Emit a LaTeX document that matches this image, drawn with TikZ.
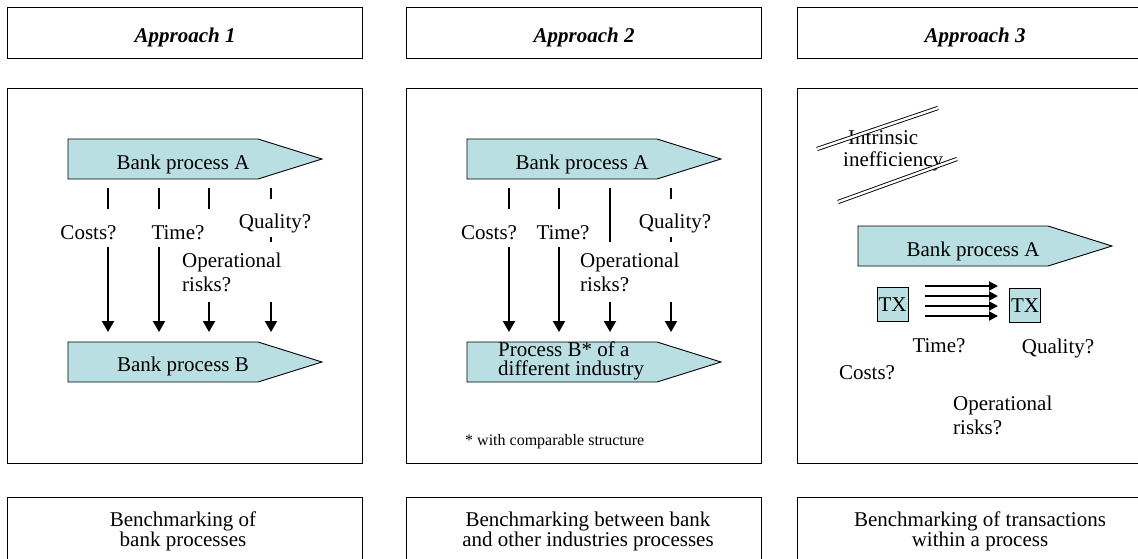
\documentclass[tikz,border=0pt]{standalone}
\usepackage{fontspec}
\setmainfont{Liberation Serif}
\usetikzlibrary{arrows.meta}
\definecolor{procblue}{HTML}{B9DFE2}
\newcommand\procshape[2]{\draw[proc] (#1,#2) -- ++(190,0) -- ++(64,20) -- ++(-64,20) -- ++(-190,0) -- cycle;}
\begin{document}
\begin{tikzpicture}[x=1pt,y=-1pt,
  txt/.style={font=\fontsize{21}{24}\selectfont, inner sep=0pt},
  frame/.style={draw=black, line width=1.3pt, inner sep=0pt, anchor=north west, minimum width=355pt},
  headbox/.style={frame, minimum height=51pt, font=\fontsize{21}{24}\selectfont\bfseries\itshape, text height=18pt, text depth=0pt},
  proc/.style={draw=black, line width=0.9pt, fill=procblue},
  flow/.style={line width=2.2pt, -{Triangle[width=12pt,length=11pt]}},
  smallflow/.style={line width=2pt, -{Triangle[width=9pt,length=9pt]}},
  qlab/.style={txt, fill=white, inner xsep=7pt, inner ysep=0pt, minimum height=38pt, text height=22pt, text depth=0pt},
  oplab/.style={txt, fill=white, inner xsep=6pt, inner ysep=0pt, minimum height=60pt, align=left, anchor=west},
  txbox/.style={txt, draw=black, line width=0.9pt, fill=procblue, minimum width=31pt, minimum height=34pt},
  strike/.style={draw=black, double=white, double distance=2.4pt, line width=0.9pt}
]
\useasboundingbox (0,0) rectangle (1138,558);
\clip (0,0) rectangle (1138,558);
\fill[white] (0,0) rectangle (1138,558);

% headers
\node[headbox] (h1) at (7,7) {Approach 1};
\node[headbox] (h2) at (406,7) {Approach 2};
\node[headbox] (h3) at (797,7) {Approach 3};

% panels
\node[frame, minimum height=375pt] (pan1) at (7,88) {};
\node[frame, minimum height=375pt] (pan2) at (406,88) {};
\node[frame, minimum height=375pt] (pan3) at (797,88) {};

% bottom boxes
\node[frame, minimum height=100pt] (bot1) at (7,497) {};
\node[frame, minimum height=100pt] (bot2) at (406,497) {};
\node[frame, minimum height=100pt] (bot3) at (797,497) {};
\node[txt, align=center, anchor=north, font=\fontsize{21}{20.5}\selectfont] (bt1) at (183,511.5) {Benchmarking of\\bank processes};
\node[txt, align=center, anchor=north, font=\fontsize{21}{20.5}\selectfont] (bt2) at (588,511.5) {Benchmarking between bank\\and other industries processes};
\node[txt, align=center, anchor=north, font=\fontsize{21}{20.5}\selectfont] (bt3) at (980,511.5) {Benchmarking of transactions\\within a process};

% ---------- panel 1 ----------
\procshape{68}{139}
\procshape{68}{342}
\node[txt, anchor=base] (p1a) at (183,169) {Bank process A};
\node[txt, anchor=base] (p1b) at (183,371) {Bank process B};

% ---------- panel 2 ----------
\procshape{467}{139}
\procshape{467}{342}
\node[txt, anchor=base] (p2a) at (582,169) {Bank process A};
\node[txt, anchor=north west, align=left, font=\fontsize{21}{19}\selectfont] (p2b) at (498,341.5) {Process B* of a\\different industry};
\node[txt, anchor=base west, font=\fontsize{16}{19}\selectfont] (fn) at (465,445) {* with comparable structure};

% vertical arrows (panels 1 and 2)
\foreach \x/\n in {108/a,159/b,209/c,271/d,509/e,559/f,610/g,671/h} {
  \coordinate (t\n) at (\x,188);
  \coordinate (b\n) at (\x,332);
  \draw[flow] (t\n) -- (b\n);
}

% labels over the arrows
\node[qlab] (c1) at (88.5,228) {Costs?};
\node[qlab] (ti1) at (178,228) {Time?};
\node[qlab] (q1) at (275,217.5) {Quality?};
\node[oplab] (o1) at (176,272) {Operational\\risks?};
\node[qlab] (c2) at (489,228) {Costs?};
\node[qlab] (ti2) at (563,228) {Time?};
\node[qlab] (q2) at (675,217.5) {Quality?};
\node[oplab] (o2) at (574,272) {Operational\\risks?};

% ---------- panel 3 ----------
\node[txt, anchor=north west, align=left, font=\fontsize{21}{22}\selectfont] (ineff) at (843,130.5) {\hspace*{5pt}Intrinsic\\inefficiency};
\draw[strike] (817,149) -- (938,108);
\draw[strike] (838,202) -- (957,159);

\procshape{858}{226}
\node[txt, anchor=base] (p3a) at (973,256) {Bank process A};

\node[txbox] (tx1) at (892.5,304.5) {TX};
\node[txbox] (tx2) at (1025,305.5) {TX};
\foreach \y/\n in {286/p,296/q,306/r,316/s} {
  \coordinate (l\n) at (925,\y);
  \coordinate (r\n) at (998,\y);
  \draw[smallflow] (l\n) -- (r\n);
}

\node[txt, anchor=base] (ti3) at (939,352) {Time?};
\node[txt, anchor=base] (q3) at (1058,353) {Quality?};
\node[txt, anchor=base] (c3) at (867,379) {Costs?};
\node[txt, anchor=north west, align=left] (o3) at (953,395.5) {Operational\\risks?};
\end{tikzpicture}
\end{document}
